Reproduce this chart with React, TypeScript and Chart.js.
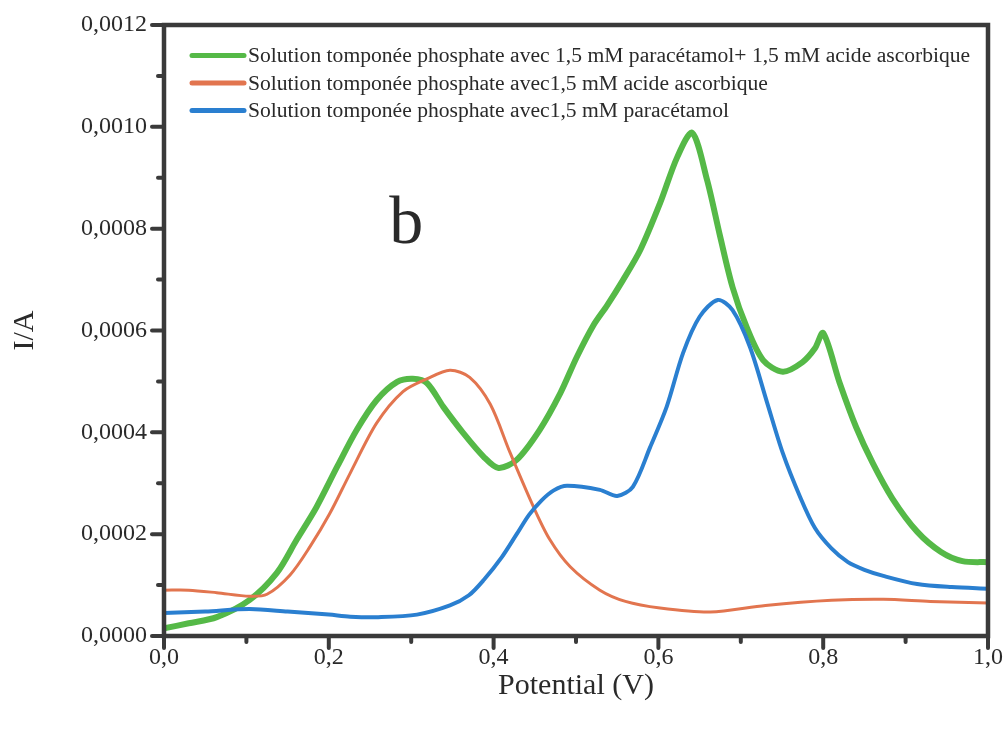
import React, { useEffect, useRef } from 'react';
import { Chart, registerables } from 'chart.js';

Chart.register(...registerables);

// ---------- data ----------
const SERIES_LABELS = [
  'Solution tomponée phosphate avec 1,5 mM paracétamol+ 1,5 mM acide ascorbique',
  'Solution tomponée phosphate avec1,5 mM acide ascorbique',
  'Solution tomponée phosphate avec1,5 mM paracétamol',
];
const SERIES_COLORS = ['#55b947', '#e2754f', '#2a7fd0'];

const X_TITLE = 'Potential (V)';
const Y_TITLE = 'I/A';
const PANEL_LETTER = 'b';

// PBS + paracetamol + ascorbic acid (green)
const greenX = [0.0, 0.03, 0.064, 0.104, 0.137, 0.161, 0.185, 0.21, 0.234, 0.258, 0.283, 0.302, 0.319, 0.339, 0.363, 0.388, 0.406, 0.428, 0.456, 0.481, 0.501, 0.521, 0.538, 0.557, 0.578, 0.602, 0.623, 0.641, 0.659, 0.675, 0.69, 0.707, 0.727, 0.751, 0.775, 0.79, 0.8, 0.82, 0.84, 0.86, 0.884, 0.914, 0.943, 0.969, 1.0];
const greenY = [1.5e-5, 2.5e-5, 3.7e-5, 7.1e-5, 1.24e-4, 1.89e-4, 2.53e-4, 3.32e-4, 4.05e-4, 4.63e-4, 4.99e-4, 5.05e-4, 4.97e-4, 4.5e-4, 3.99e-4, 3.52e-4, 3.3e-4, 3.46e-4, 4.05e-4, 4.77e-4, 5.48e-4, 6.1e-4, 6.5e-4, 6.99e-4, 7.58e-4, 8.5e-4, 9.41e-4, 9.88e-4, 8.96e-4, 7.84e-4, 6.85e-4, 6.07e-4, 5.42e-4, 5.19e-4, 5.38e-4, 5.65e-4, 5.95e-4, 4.97e-4, 4.1e-4, 3.4e-4, 2.7e-4, 2.05e-4, 1.65e-4, 1.47e-4, 1.45e-4];

// PBS + ascorbic acid (red)
const redX = [0.0, 0.03, 0.064, 0.104, 0.125, 0.153, 0.177, 0.201, 0.226, 0.258, 0.29, 0.319, 0.347, 0.371, 0.396, 0.42, 0.448, 0.468, 0.493, 0.529, 0.56, 0.602, 0.663, 0.73, 0.81, 0.873, 0.93, 1.0];
const redY = [9.0e-5, 9.0e-5, 8.5e-5, 7.8e-5, 8.2e-5, 1.2e-4, 1.75e-4, 2.4e-4, 3.2e-4, 4.18e-4, 4.8e-4, 5.05e-4, 5.22e-4, 5.08e-4, 4.55e-4, 3.6e-4, 2.55e-4, 1.9e-4, 1.36e-4, 9.0e-5, 6.8e-5, 5.5e-5, 4.7e-5, 6.0e-5, 7.0e-5, 7.2e-5, 6.8e-5, 6.5e-5];

// PBS + paracetamol (blue)
const blueX = [0.0, 0.05, 0.104, 0.15, 0.2, 0.226, 0.26, 0.307, 0.347, 0.37, 0.388, 0.41, 0.428, 0.443, 0.458, 0.473, 0.489, 0.529, 0.55, 0.569, 0.59, 0.61, 0.63, 0.65, 0.672, 0.69, 0.711, 0.732, 0.751, 0.772, 0.79, 0.81, 0.83, 0.85, 0.873, 0.914, 0.956, 1.0];
const blueY = [4.5e-5, 4.8e-5, 5.3e-5, 4.8e-5, 4.2e-5, 3.8e-5, 3.7e-5, 4.2e-5, 6.0e-5, 8.0e-5, 1.1e-4, 1.55e-4, 2.0e-4, 2.38e-4, 2.66e-4, 2.86e-4, 2.95e-4, 2.87e-4, 2.75e-4, 2.93e-4, 3.71e-4, 4.5e-4, 5.56e-4, 6.27e-4, 6.6e-4, 6.4e-4, 5.68e-4, 4.58e-4, 3.59e-4, 2.73e-4, 2.12e-4, 1.72e-4, 1.45e-4, 1.3e-4, 1.18e-4, 1.02e-4, 9.6e-5, 9.3e-5];

const X_MAJOR_TICKS = [0, 0.2, 0.4, 0.6, 0.8, 1.0];
const X_MINOR_TICKS = [0.1, 0.3, 0.5, 0.7, 0.9];
const Y_MAJOR_TICKS = [0, 0.0002, 0.0004, 0.0006, 0.0008, 0.001, 0.0012];
const Y_MINOR_TICKS = [0.0001, 0.0003, 0.0005, 0.0007, 0.0009, 0.0011];

// ---------- styling ----------
const FONT = '"Liberation Serif", "Times New Roman", serif';
const AXIS_COLOR = '#3a3a3a';
const TEXT_COLOR = '#2a2a2a';
const LINE_WIDTHS = [6, 3, 4];

const toPts = (xs: number[], ys: number[]) => xs.map((x, i) => ({ x, y: ys[i] }));

const decorPlugin = {
  id: 'decor',
  afterDraw(chart: any) {
    const { ctx, chartArea } = chart;
    const { left, right, top, bottom } = chartArea;
    const xs = chart.scales.x;
    const ys = chart.scales.y;
    ctx.save();
    // frame
    ctx.strokeStyle = AXIS_COLOR;
    ctx.lineWidth = 4.5;
    ctx.lineCap = 'square';
    ctx.beginPath();
    ctx.moveTo(left, top);
    ctx.lineTo(right, top);
    ctx.lineTo(right, bottom);
    ctx.lineTo(left, bottom);
    ctx.closePath();
    ctx.stroke();
    // ticks
    ctx.lineCap = 'round';
    ctx.lineWidth = 4;
    const tick = (x1: number, y1: number, x2: number, y2: number) => {
      ctx.beginPath();
      ctx.moveTo(x1, y1);
      ctx.lineTo(x2, y2);
      ctx.stroke();
    };
    X_MAJOR_TICKS.forEach((v) => { const p = xs.getPixelForValue(v); tick(p, bottom, p, bottom + 12); });
    X_MINOR_TICKS.forEach((v) => { const p = xs.getPixelForValue(v); tick(p, bottom, p, bottom + 6); });
    Y_MAJOR_TICKS.forEach((v) => { const p = ys.getPixelForValue(v); tick(left, p, left - 12, p); });
    Y_MINOR_TICKS.forEach((v) => { const p = ys.getPixelForValue(v); tick(left, p, left - 6, p); });

    // legend
    ctx.font = `21.6px ${FONT}`;
    ctx.textBaseline = 'middle';
    ctx.textAlign = 'left';
    SERIES_LABELS.forEach((lab, i) => {
      const yy = top + 30.5 + i * 27.5;
      ctx.strokeStyle = SERIES_COLORS[i];
      ctx.lineWidth = 5;
      ctx.lineCap = 'round';
      ctx.beginPath();
      ctx.moveTo(left + 28, yy);
      ctx.lineTo(left + 80, yy);
      ctx.stroke();
      ctx.fillStyle = TEXT_COLOR;
      ctx.fillText(lab, left + 84, yy + 1);
    });

    // panel letter
    ctx.font = `68px ${FONT}`;
    ctx.textAlign = 'center';
    ctx.textBaseline = 'alphabetic';
    ctx.fillStyle = TEXT_COLOR;
    ctx.fillText(PANEL_LETTER, xs.getPixelForValue(0.294), ys.getPixelForValue(0.000772));
    ctx.restore();
  },
};

export default function App() {
  const ref = useRef<HTMLCanvasElement>(null);

  useEffect(() => {
    if (!ref.current) return;
    const chart = new Chart(ref.current, {
      type: 'line',
      data: {
        datasets: [
          { label: SERIES_LABELS[2], data: toPts(blueX, blueY), borderColor: SERIES_COLORS[2], borderWidth: LINE_WIDTHS[2] },
          { label: SERIES_LABELS[1], data: toPts(redX, redY), borderColor: SERIES_COLORS[1], borderWidth: LINE_WIDTHS[1] },
          { label: SERIES_LABELS[0], data: toPts(greenX, greenY), borderColor: SERIES_COLORS[0], borderWidth: LINE_WIDTHS[0] },
        ],
      },
      options: {
        animation: false,
        responsive: false,
        parsing: false as any,
        layout: { padding: { left: 0, top: 25, right: 19, bottom: 0 } },
        elements: {
          point: { radius: 0 },
          line: { tension: 0.3, borderCapStyle: 'round', borderJoinStyle: 'round' },
        },
        plugins: { legend: { display: false }, tooltip: { enabled: false } },
        scales: {
          x: {
            type: 'linear',
            min: 0,
            max: 1,
            border: { display: false },
            grid: { drawOnChartArea: false, drawTicks: true, tickLength: 12, tickColor: 'rgba(0,0,0,0)' },
            ticks: {
              stepSize: 0.2,
              autoSkip: false,
              maxRotation: 0,
              padding: 0,
              color: TEXT_COLOR,
              font: { family: FONT, size: 24, lineHeight: 0.85 },
              callback: (v: any) => Number(v).toFixed(1).replace('.', ','),
            },
            title: {
              display: true,
              text: X_TITLE,
              color: TEXT_COLOR,
              font: { family: FONT, size: 30, lineHeight: 1.2 },
              padding: { top: 0, bottom: 26 },
            },
            afterFit: (s: any) => { s.height = 94; },
          },
          y: {
            type: 'linear',
            min: 0,
            max: 0.0012,
            border: { display: false },
            grid: { drawOnChartArea: false, drawTicks: true, tickLength: 11, tickColor: 'rgba(0,0,0,0)' },
            ticks: {
              stepSize: 0.0002,
              autoSkip: false,
              padding: 6,
              color: TEXT_COLOR,
              font: { family: FONT, size: 24 },
              callback: (v: any) => Number(v).toFixed(4).replace('.', ','),
            },
            title: {
              display: true,
              text: Y_TITLE,
              color: TEXT_COLOR,
              font: { family: FONT, size: 30, lineHeight: 1.2 },
              padding: { top: 7, bottom: 0 },
            },
            afterFit: (s: any) => { s.width = 164; },
          },
        },
      },
      plugins: [decorPlugin],
    });
    return () => chart.destroy();
  }, []);

  return (
    <div style={{ position: 'absolute', left: 0, top: 0, width: 1007, height: 730, background: '#fff' }}>
      <canvas ref={ref} width={1007} height={730} style={{ display: 'block' }} />
    </div>
  );
}
